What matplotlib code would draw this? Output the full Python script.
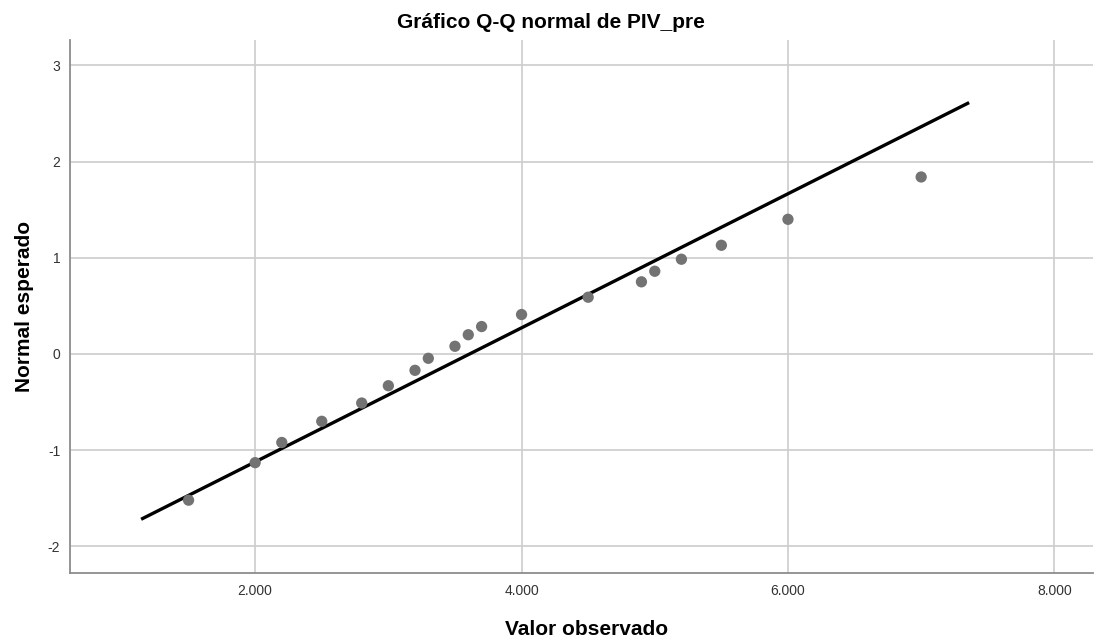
import numpy as np
import matplotlib
matplotlib.use('Agg')
import matplotlib.pyplot as plt
from matplotlib.ticker import FuncFormatter

obs = [1500, 2000, 2200, 2500, 2800, 3000, 3200, 3300, 3500, 3600, 3700,
       4000, 4500, 4900, 5000, 5200, 5500, 6000, 7000]
esp = [-1.52, -1.13, -0.92, -0.70, -0.51, -0.33, -0.17, -0.045, 0.08, 0.20, 0.285,
       0.41, 0.59, 0.75, 0.86, 0.985, 1.13, 1.40, 1.84]

# reference line: y = (x - media) / desv, drawn between two x values
media = 3610.0
desv = 1435.0
line_x = [1144, 7360]

xticks = [2000, 4000, 6000, 8000]
yticks = [-2, -1, 0, 1, 2, 3]

plt.rcParams['font.family'] = ['Liberation Sans', 'DejaVu Sans']
plt.rcParams['axes.unicode_minus'] = False

fig = plt.figure(figsize=(10.95, 6.39), dpi=100)
ax = fig.add_axes([70/1095, 66/639, 1023/1095, 533/639])

ax.grid(True, color='#cccccc', linewidth=1.2, zorder=0)
ax.set_axisbelow(True)

lx = np.array(line_x, dtype=float)
ax.plot(lx, (lx - media) / desv, color='black', linewidth=2.4, zorder=2,
        solid_capstyle='butt')
ax.scatter(obs, esp, s=66, color='#737373', edgecolors='none', zorder=3)

ax.set_xlim(610, 8290)
ax.set_ylim(-2.277, 3.264)
ax.set_xticks(xticks)
ax.set_yticks(yticks)
ax.xaxis.set_major_formatter(FuncFormatter(lambda v, p: '{:,.0f}'.format(v).replace(',', '.')))

for s in ['top', 'right']:
    ax.spines[s].set_visible(False)
for s in ['left', 'bottom']:
    ax.spines[s].set_color('#8c8c8c')
    ax.spines[s].set_linewidth(1.3)

ax.tick_params(length=0, labelsize=10, colors='#333333', pad=8)
ax.tick_params(axis='y', pad=7)

ax.set_xlabel('Valor observado', fontsize=15, fontweight='bold', va='baseline')
ax.xaxis.set_label_coords(0.5054, -0.1163)
ax.set_ylabel('Normal esperado', fontsize=15, fontweight='bold', va='center')
ax.yaxis.set_label_coords(-0.044, 0.5)
fig.text(551/1095, 1 - 28/639, 'Gráfico Q-Q normal de PIV_pre', ha='center', va='baseline',
         fontsize=15, fontweight='bold')

fig.savefig('out.png', dpi=100)
